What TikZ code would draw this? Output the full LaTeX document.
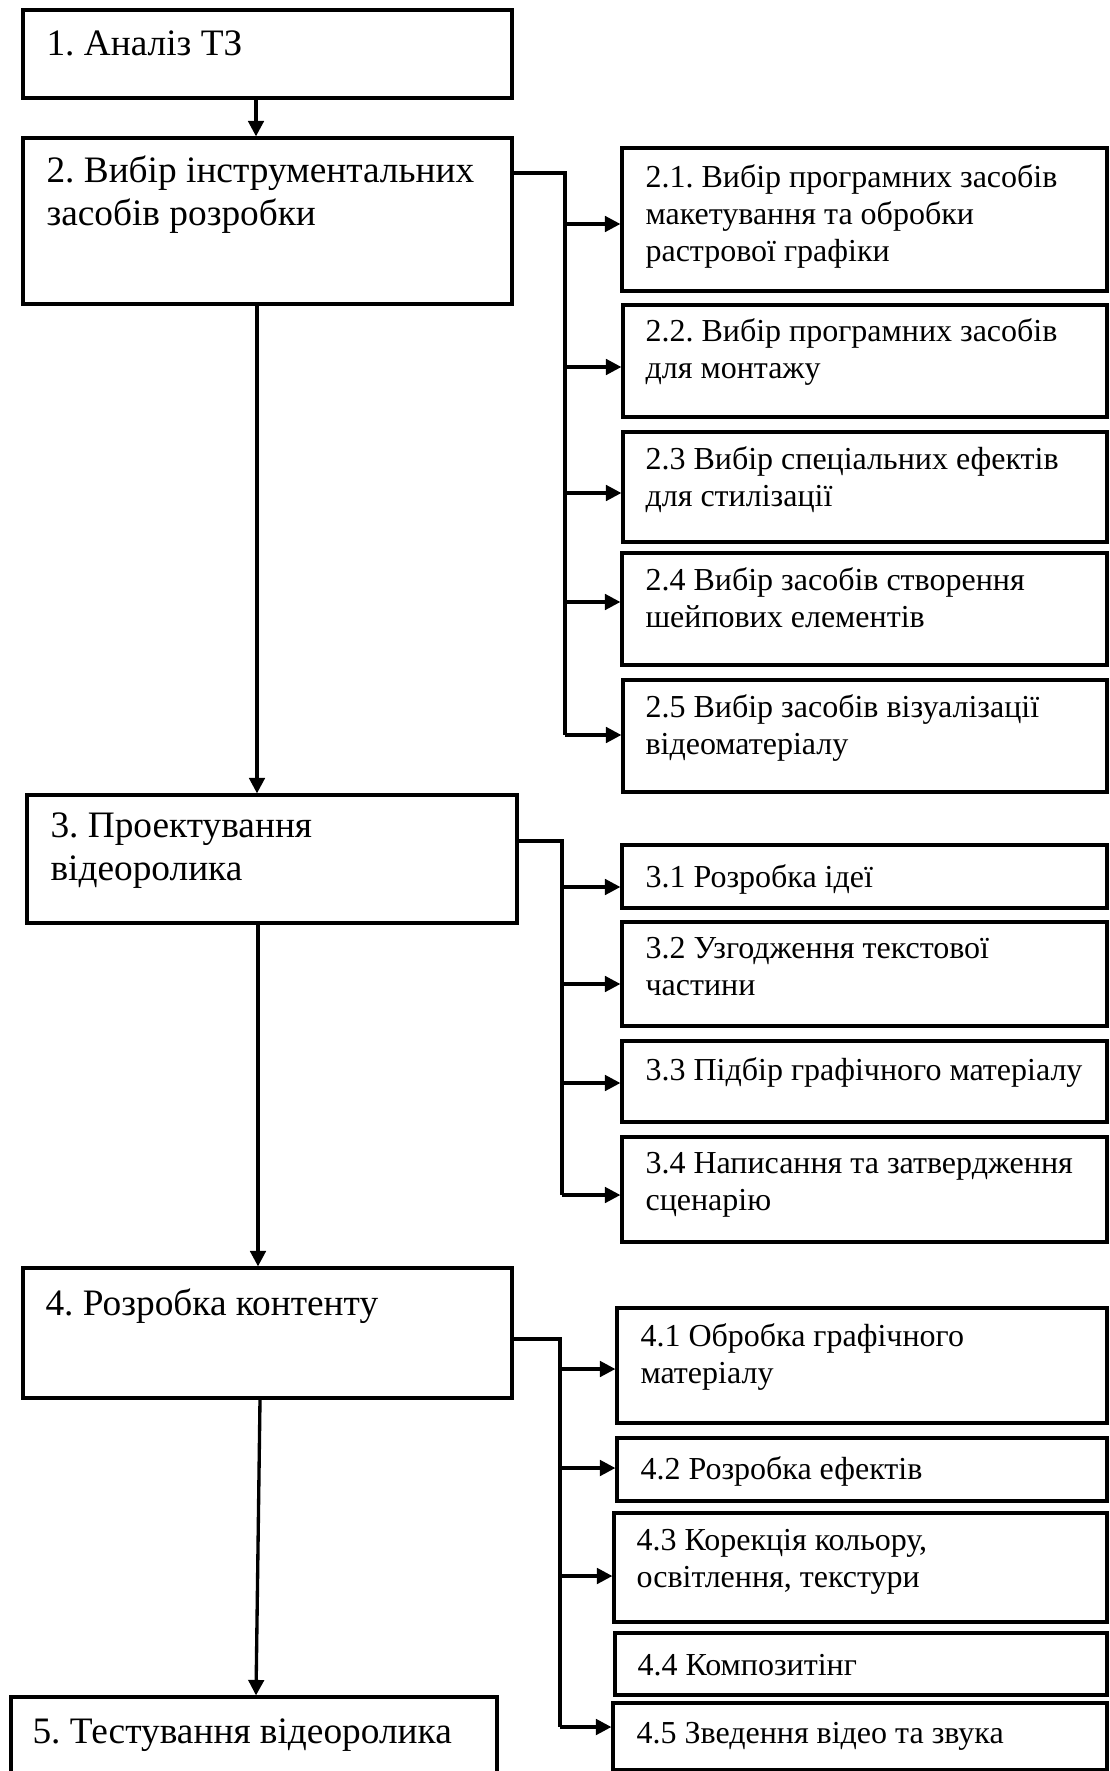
\documentclass[tikz,border=0pt]{standalone}
\usepackage{fontspec}
\setmainfont{Liberation Serif}
\frenchspacing
\usetikzlibrary{arrows.meta,fit}
\begin{document}
\begin{tikzpicture}[x=0.375pt,y=-0.375pt,
  box/.style={draw=black,line width=1.2pt,inner sep=0pt,fill=none},
  ln/.style={draw=black,line width=1.25pt},
  arr/.style={ln,-{Triangle[length=5.8pt,width=5.8pt]}},
  mtxt/.style={anchor=north west,inner sep=0pt,align=left,font=\fontsize{14}{16.1}\selectfont\frenchspacing,execute at begin node={\rule{0pt}{11.25pt}}},
  stxt/.style={anchor=north west,inner sep=0pt,align=left,font=\fontsize{12}{13.8}\selectfont\frenchspacing,execute at begin node={\rule{0pt}{9.75pt}}}]
\useasboundingbox (0,0) rectangle (1110,1771);
\clip (0,0) rectangle (1110,1771);
\fill[white] (0,0) rectangle (1110,1771);
% main boxes
\node[box,fit={(23,10) (512,98)}] (b1) {};
\node[box,fit={(23,138) (512,304)}] (b2) {};
\node[box,fit={(27,795) (517,923)}] (b3) {};
\node[box,fit={(23,1268) (512,1398)}] (b4) {};
\node[box,fit={(11,1697) (497,1790)}] (b5) {};
% sub boxes
\node[box,fit={(622,148) (1107,291)}] (s21) {};
\node[box,fit={(623,305) (1107,417)}] (s22) {};
\node[box,fit={(623,432) (1107,542)}] (s23) {};
\node[box,fit={(622,553) (1107,665)}] (s24) {};
\node[box,fit={(623,680) (1107,792)}] (s25) {};
\node[box,fit={(622,845) (1107,908)}] (s31) {};
\node[box,fit={(622,922) (1107,1026)}] (s32) {};
\node[box,fit={(622,1041) (1107,1122)}] (s33) {};
\node[box,fit={(622,1137) (1107,1242)}] (s34) {};
\node[box,fit={(617,1308) (1107,1423)}] (s41) {};
\node[box,fit={(617,1438) (1107,1501)}] (s42) {};
\node[box,fit={(614,1513) (1107,1622)}] (s43) {};
\node[box,fit={(615,1633) (1107,1695)}] (s44) {};
\node[box,fit={(613,1703) (1107,1770)}] (s45) {};
% texts
\node[mtxt] (t1) at (46,25) {1. Аналіз ТЗ};
\node[mtxt] (t2) at (46,155) {2. Вибір інструментальних\\засобів розробки};
\node[mtxt] (t3) at (50,812) {3. Проектування\\відеоролика};
\node[mtxt] (t4) at (45,1285) {4. Розробка контенту};
\node[mtxt] (t5) at (32,1713) {5. Тестування відеоролика};
\node[stxt] (u21) at (645,164) {2.1. Вибір програмних засобів\\макетування та обробки\\растрової графіки};
\node[stxt] (u22) at (645,318) {2.2. Вибір програмних засобів\\для монтажу};
\node[stxt] (u23) at (645,446) {2.3 Вибір спеціальних ефектів\\для стилізації};
\node[stxt] (u24) at (645,567) {2.4 Вибір засобів створення\\шейпових елементів};
\node[stxt] (u25) at (645,694) {2.5 Вибір засобів візуалізації\\відеоматеріалу};
\node[stxt] (u31) at (645,861) {3.1 Розробка ідеї};
\node[stxt] (u32) at (645,937) {3.2 Узгодження текстової\\частини};
\node[stxt] (u33) at (645,1054) {3.3 Підбір графічного матеріалу};
\node[stxt] (u34) at (645,1152) {3.4 Написання та затвердження\\сценарію};
\node[stxt] (u41) at (640,1323) {4.1 Обробка графічного\\матеріалу};
\node[stxt] (u42) at (640,1453) {4.2 Розробка ефектів};
\node[stxt] (u43) at (636,1529) {4.3 Корекція кольору,\\освітлення, текстури};
\node[stxt] (u44) at (637,1649) {4.4 Композитінг};
\node[stxt] (u45) at (636,1717) {4.5 Зведення відео та звука};
% main flow
\coordinate (v1) at (256,0);
\coordinate (v2) at (257,0);
\coordinate (v3) at (258,0);
\coordinate (v4a) at (260,0);
\coordinate (v4b) at (256,0);
\draw[arr] (b1.south -| v1) -- (b2.north -| v1);
\draw[arr] (b2.south -| v2) -- (b3.north -| v2);
\draw[arr] (b3.south -| v3) -- (b4.north -| v3);
\draw[arr] (b4.south -| v4a) -- (b5.north -| v4b);
% branch 2
\coordinate (h2) at (565,173);
\coordinate (h2b) at (565,735);
\draw[ln] (h2 -| b2.east) -- (h2) -- (h2b);
\foreach \n/\yy in {21/224,22/367,23/493,24/602,25/735}{
  \coordinate (a\n) at (565,\yy);
  \draw[arr] (a\n) -- (a\n -| s\n.west);
}
% branch 3
\coordinate (h3) at (562,841);
\coordinate (h3b) at (562,1195);
\draw[ln] (h3 -| b3.east) -- (h3) -- (h3b);
\foreach \n/\yy in {31/887,32/984,33/1083,34/1195}{
  \coordinate (a\n) at (562,\yy);
  \draw[arr] (a\n) -- (a\n -| s\n.west);
}
% branch 4
\coordinate (h4) at (560,1339);
\coordinate (h4b) at (560,1727);
\draw[ln] (h4 -| b4.east) -- (h4) -- (h4b);
\foreach \n/\yy in {41/1369,42/1468,43/1576,45/1727}{
  \coordinate (a\n) at (560,\yy);
  \draw[arr] (a\n) -- (a\n -| s\n.west);
}
\end{tikzpicture}
\end{document}
